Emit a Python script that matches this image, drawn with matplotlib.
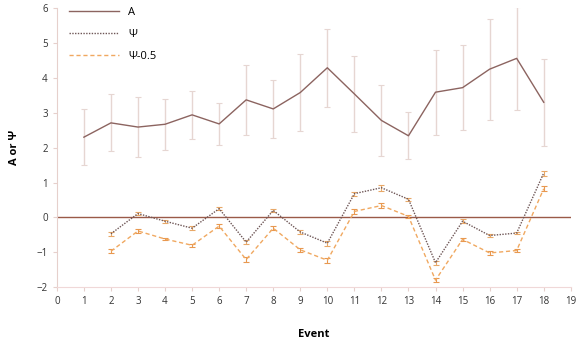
import matplotlib
matplotlib.use("Agg")
import matplotlib.pyplot as plt

events = list(range(1, 19))
a_vals = [2.30, 2.71, 2.59, 2.67, 2.94, 2.68, 3.37, 3.11, 3.58, 4.29,
          3.54, 2.78, 2.34, 3.59, 3.72, 4.25, 4.56, 3.30]
a_err = [0.80, 0.82, 0.86, 0.73, 0.68, 0.60, 1.00, 0.82, 1.10, 1.12,
         1.08, 1.03, 0.67, 1.22, 1.21, 1.45, 1.48, 1.25]

psi_events = list(range(2, 19))
psi_vals = [-0.47, 0.11, -0.11, -0.31, 0.25, -0.71, 0.20, -0.42, -0.74,
            0.68, 0.85, 0.52, -1.30, -0.11, -0.52, -0.45, 1.27]
psi05_vals = [-0.97, -0.39, -0.62, -0.80, -0.25, -1.21, -0.31, -0.93, -1.23,
              0.17, 0.34, 0.03, -1.80, -0.63, -1.02, -0.95, 0.82]
psi_err = [0.05, 0.05, 0.04, 0.05, 0.05, 0.06, 0.05, 0.05, 0.07,
           0.06, 0.08, 0.05, 0.06, 0.05, 0.05, 0.04, 0.07]

plt.rcParams['font.family'] = ['Open Sans', 'DejaVu Sans']

fig = plt.figure(figsize=(5.86, 3.39), dpi=100)
ax = fig.add_axes([0.097, 0.153, 0.877, 0.823])

# zero line
ax.axhline(0, color='#9a5a48', lw=1.0, zorder=1)

# A with error bars
ax.errorbar(events, a_vals, yerr=a_err, color='#8c6460', lw=1.0,
            ecolor='#e6d6d2', elinewidth=1.0, capsize=2, capthick=0.8,
            label='A', zorder=3)

# Psi
ax.errorbar(psi_events, psi_vals, yerr=psi_err, color='#6e5656', lw=1.0,
            ls=(0, (1, 1)), ecolor='#e8a868', elinewidth=0.8, capsize=2,
            capthick=0.8, label='Ψ', zorder=4)

# Psi - 0.5
ax.errorbar(psi_events, psi05_vals, yerr=psi_err, color='#f0a860', lw=1.0,
            ls=(0, (3, 2)), ecolor='#e89850', elinewidth=0.8, capsize=2,
            capthick=0.8, label='Ψ-0.5', zorder=4)

ax.set_xlim(0, 19)
ax.set_ylim(-2, 6)
ax.set_xticks(range(0, 20))
ax.set_yticks(range(-2, 7))
ax.tick_params(labelsize=7, length=3, color='#e6d0cc', labelcolor='#333333')
ax.spines['top'].set_visible(False)
ax.spines['right'].set_visible(False)
ax.spines['left'].set_color('#e6d0cc')
ax.spines['bottom'].set_color('#f0d8d8')

ax.set_xlabel('Event', fontsize=8, fontweight='bold', labelpad=16)
ax.set_ylabel('A or Ψ', fontsize=8, fontweight='bold', labelpad=12)

handles, labels = ax.get_legend_handles_labels()
handles = [h[0] for h in handles]
ax.legend(handles, labels, loc='upper left', frameon=False, fontsize=8,
          bbox_to_anchor=(0.005, 1.04), handlelength=4.5, labelspacing=1.0)

fig.savefig('out.png', dpi=100)
